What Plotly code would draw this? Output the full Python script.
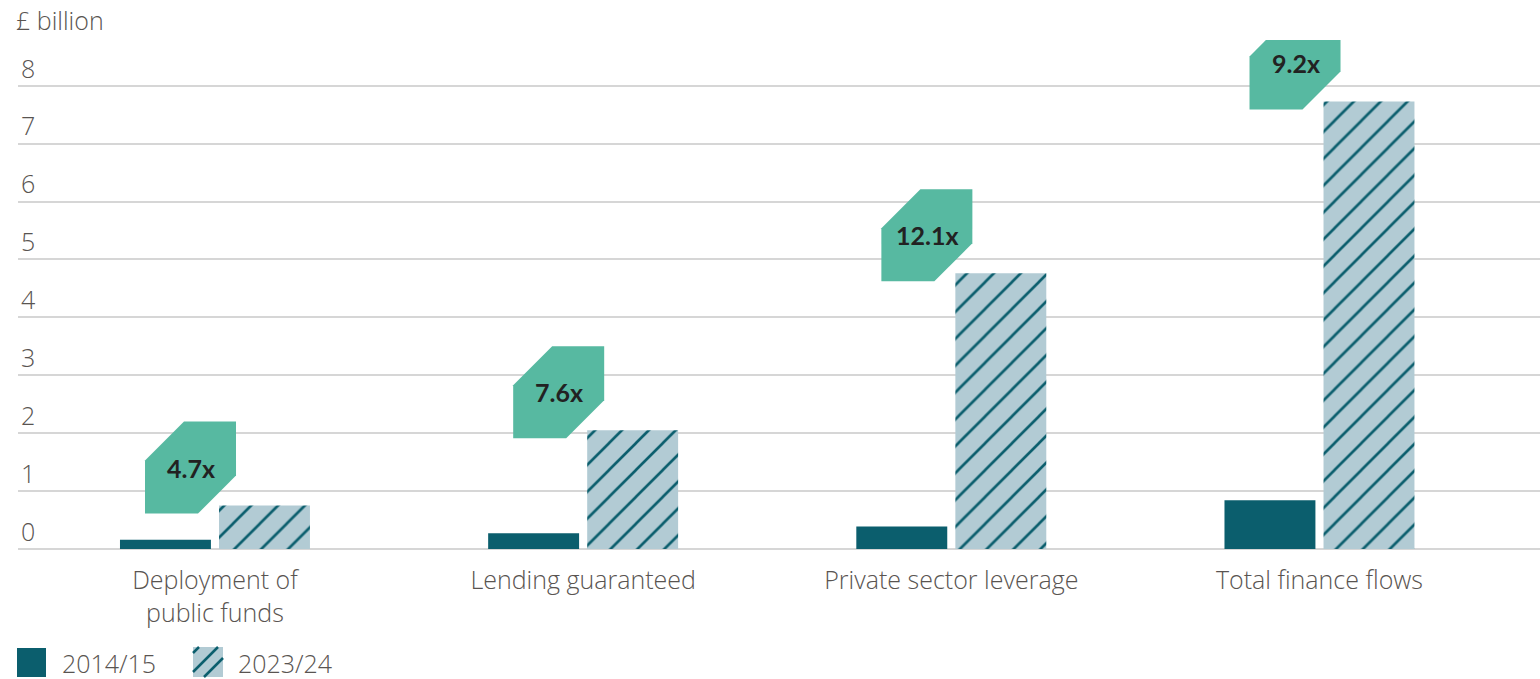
import plotly.graph_objects as go

# Finance flows, £ billion
categories = ["Deployment of<br>public funds", "Lending guaranteed",
              "Private sector leverage", "Total finance flows"]
v2014_15 = [0.16, 0.27, 0.39, 0.84]
v2023_24 = [0.75, 2.05, 4.76, 7.73]
multipliers = ["4.7x", "7.6x", "12.1x", "9.2x"]
series_names = ["2014/15", "2023/24"]
y_ticks = [0, 1, 2, 3, 4, 5, 6, 7, 8]

DARK = "#0b5e6d"
LIGHT = "#b2cbd4"
GREEN = "#57b9a1"
TEXT = "#595451"
GRID = "#d6d6d6"
FONT = "'Open Sans', Lato, sans-serif"
BADGE_FONT = "Lato, 'Open Sans', sans-serif"
TXT_SIZE = 25
TXT_WEIGHT = 300

BAR_W = 0.247
OFF_A = -0.258
OFF_B = 0.011

fig = go.Figure()
fig.add_trace(go.Bar(
    x=categories, y=v2014_15, name=series_names[0],
    width=BAR_W, offset=OFF_A,
    marker=dict(color=DARK, line=dict(width=0)),
    hoverinfo="skip",
))
fig.add_trace(go.Bar(
    x=categories, y=v2023_24, name=series_names[1],
    width=BAR_W, offset=OFF_B,
    marker=dict(color=LIGHT, line=dict(width=0),
                pattern=dict(shape="/", fgcolor=DARK, bgcolor=LIGHT,
                             size=19, solidity=0.14, fillmode="replace")),
    hoverinfo="skip",
))

shapes = []
annotations = []

# Multiplier badges: corner-cut tags sitting just left of each 2023/24 bar top
badge_path = "M-74,45 L-35,84 L17,84 L17,30 L-21,-8 L-74,-8 Z"
for i, (val, label) in enumerate(zip(v2023_24, multipliers)):
    anchor_x = i + OFF_B
    shapes.append(dict(
        type="path", xref="x", yref="y",
        xsizemode="pixel", ysizemode="pixel",
        xanchor=anchor_x, yanchor=val,
        path=badge_path, fillcolor=GREEN, line=dict(width=0),
        layer="above",
    ))
    annotations.append(dict(
        x=anchor_x, y=val, xref="x", yref="y",
        xshift=-28, yshift=38, showarrow=False,
        text=f"<b>{label}</b>", xanchor="center", yanchor="middle",
        font=dict(family=BADGE_FONT, size=25, color="#222222"),
    ))

# Legend swatches drawn below the axis
legend_common = dict(xref="paper", yref="paper", xsizemode="pixel",
                     ysizemode="pixel", xanchor=0, yanchor=0)
shapes.append(dict(type="path", path="M-1,-99 L28,-99 L28,-128 L-1,-128 Z",
                   fillcolor=DARK, line=dict(width=0), **legend_common))
shapes.append(dict(type="path", path="M175,-98 L205,-98 L205,-128 L175,-128 Z",
                   fillcolor=LIGHT, line=dict(width=0), **legend_common))
for seg in ["M175,-104 L181,-98", "M175,-123 L200,-98", "M186,-128 L205,-109"]:
    shapes.append(dict(type="path", path=seg, line=dict(color=DARK, width=2.5),
                       **legend_common))
for name, dx in zip(series_names, [42, 218]):
    annotations.append(dict(
        x=0, y=0, xref="paper", yref="paper", xshift=dx, yshift=-114,
        text=name, showarrow=False, xanchor="left", yanchor="middle",
        font=dict(family=FONT, size=TXT_SIZE, color=TEXT, weight=TXT_WEIGHT),
    ))

fig.update_layout(
    width=1540, height=679,
    margin=dict(l=18, r=0, t=40, b=130),
    paper_bgcolor="white", plot_bgcolor="white",
    showlegend=False,
    barmode="group",
    font=dict(family=FONT, size=TXT_SIZE, color=TEXT, weight=TXT_WEIGHT),
    title=dict(text="£ billion", x=16 / 1540, xanchor="left",
               xref="container", y=1 - 21 / 679, yanchor="middle",
               yref="container",
               font=dict(family=FONT, size=TXT_SIZE, color=TEXT, weight=TXT_WEIGHT)),
    shapes=shapes,
    annotations=annotations,
)
fig.update_xaxes(
    type="category", range=[-0.535, 3.599],
    showgrid=False, showline=False, ticks="",
    ticklabelstandoff=14,
    tickfont=dict(family=FONT, size=TXT_SIZE, color=TEXT, weight=TXT_WEIGHT),
)
fig.update_yaxes(
    range=[0, 8.79], tickvals=y_ticks,
    showgrid=True, gridcolor=GRID, gridwidth=1.5,
    zeroline=True, zerolinecolor=GRID, zerolinewidth=1.5,
    showline=False, ticks="",
    ticklabelposition="inside", ticklabelstandoff=0, ticklabelshift=-17,
    tickfont=dict(family=FONT, size=TXT_SIZE, color=TEXT, weight=TXT_WEIGHT),
)

fig.write_html("out.html")
